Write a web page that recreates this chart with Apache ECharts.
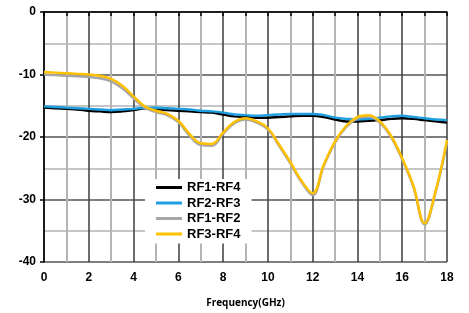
<!DOCTYPE html>
<html>
<head>
<meta charset="utf-8">
<script src="https://cdn.jsdelivr.net/npm/echarts@6/dist/echarts.min.js"></script>
<style>
html,body{margin:0;padding:0;background:#fff;}
#main{width:469px;height:313px;}
</style>
</head>
<body>
<div id="main"></div>
<script>
// frequency points (GHz)
var freq = [0,0.5,1,1.5,2,2.5,3,3.5,4,4.5,5,5.5,6,6.5,7,7.5,8,8.5,9,9.5,10,10.5,11,11.5,12,12.5,13,13.5,14,14.5,15,15.5,16,16.5,17,17.5,18];
var seriesNames = ["RF1-RF4","RF2-RF3","RF1-RF2","RF3-RF4"];
var rf14 = [-15.3,-15.4,-15.5,-15.6,-15.8,-15.9,-16.0,-15.9,-15.7,-15.4,-15.5,-15.7,-15.8,-15.9,-16.0,-16.1,-16.4,-16.7,-16.8,-16.9,-16.9,-16.8,-16.7,-16.6,-16.6,-16.8,-17.2,-17.5,-17.5,-17.4,-17.3,-17.1,-17.0,-17.1,-17.3,-17.5,-17.7];
var rf23 = [-15.1,-15.2,-15.3,-15.4,-15.5,-15.6,-15.7,-15.6,-15.5,-15.3,-15.3,-15.4,-15.5,-15.6,-15.8,-15.9,-16.1,-16.4,-16.5,-16.6,-16.5,-16.4,-16.3,-16.3,-16.3,-16.5,-16.9,-17.1,-17.2,-17.1,-16.9,-16.7,-16.6,-16.8,-17.0,-17.2,-17.3];
var rf12 = [-10.0,-10.1,-10.2,-10.3,-10.4,-10.6,-11.1,-12.2,-13.8,-15.3,-16.0,-16.5,-17.6,-19.8,-21.3,-21.4,-19.5,-17.8,-17.2,-17.7,-18.8,-21.4,-24.2,-27.2,-29.3,-24.6,-20.9,-18.4,-17.0,-16.7,-17.7,-20.0,-23.6,-28.0,-34.0,-28.7,-20.8];
var rf34 = [-9.6,-9.7,-9.8,-9.9,-10.0,-10.2,-10.7,-11.8,-13.5,-15.1,-15.8,-16.3,-17.4,-19.5,-21.0,-21.1,-19.3,-17.6,-17.0,-17.5,-18.6,-21.2,-24.0,-27.0,-29.0,-24.4,-20.7,-18.2,-16.8,-16.5,-17.5,-19.8,-23.4,-27.8,-33.8,-28.5,-20.5];
var colors = ["#000000","#1f9fe0","#a6a6a6","#ffc000"];

function pairs(vals){
	var out = [];
	for (var i = 0; i < freq.length; i++) {
		out.push([freq[i], vals[i]]);
	}
	return out;
}

var allVals = [rf14, rf23, rf12, rf34];
var series = [];
for (var k = 0; k < allVals.length; k++) {
	series.push({
		name: seriesNames[k],
		type: 'line',
		smooth: 0.4,
		symbol: 'none',
		data: pairs(allVals[k]),
		lineStyle: {color: colors[k], width: 2.5},
		itemStyle: {color: colors[k]}
	});
}

var font = '"Liberation Sans", Arial, sans-serif';
var myChart = echarts.init(document.getElementById('main'));
var option = {
	animation: false,
	backgroundColor: '#fff',
	grid: {left: 44, right: 22, top: 12, bottom: 49},
	legend: {
		orient: 'vertical',
		left: 145,
		top: 179,
		backgroundColor: '#fff',
		padding: [2, 11, 3, 11],
		itemGap: 2.5,
		itemWidth: 26,
		itemHeight: 3,
		icon: 'rect',
		textStyle: {fontFamily: font, fontWeight: 'bold', fontSize: 13, color: '#000'},
		data: seriesNames
	},
	xAxis: {
		type: 'value',
		min: 0, max: 18, interval: 2,
		name: 'Frequency(GHz)',
		nameLocation: 'middle',
		nameGap: 36,
		nameTextStyle: {fontFamily: '"Open Sans", sans-serif', fontWeight: 'bold', fontSize: 10, color: '#000'},
		axisLine: {lineStyle: {color: '#000', width: 1.5}},
		axisTick: {length: 4, lineStyle: {color: '#000', width: 1.5}},
		minorTick: {show: true, splitNumber: 2, length: 4, lineStyle: {color: '#000', width: 1.5}},
		axisLabel: {fontFamily: font, fontWeight: 'bold', fontSize: 12, color: '#000', margin: 10},
		splitLine: {show: true, lineStyle: {color: '#3c3c3c', width: 1.5}},
		minorSplitLine: {show: true, lineStyle: {color: '#b4b4b4', width: 2}}
	},
	yAxis: {
		type: 'value',
		min: -40, max: 0, interval: 10,
		axisLine: {show: true, lineStyle: {color: '#000', width: 1.5}},
		axisTick: {show: true, length: 4, lineStyle: {color: '#000', width: 1.5}},
		minorTick: {show: false, splitNumber: 2},
		axisLabel: {fontFamily: font, fontWeight: 'bold', fontSize: 12, color: '#000', margin: 8},
		splitLine: {show: true, lineStyle: {color: '#555', width: 1.5}},
		minorSplitLine: {show: true, lineStyle: {color: '#b4b4b4', width: 1.5}}
	},
	series: series
};
myChart.setOption(option);
</script>
</body>
</html>
